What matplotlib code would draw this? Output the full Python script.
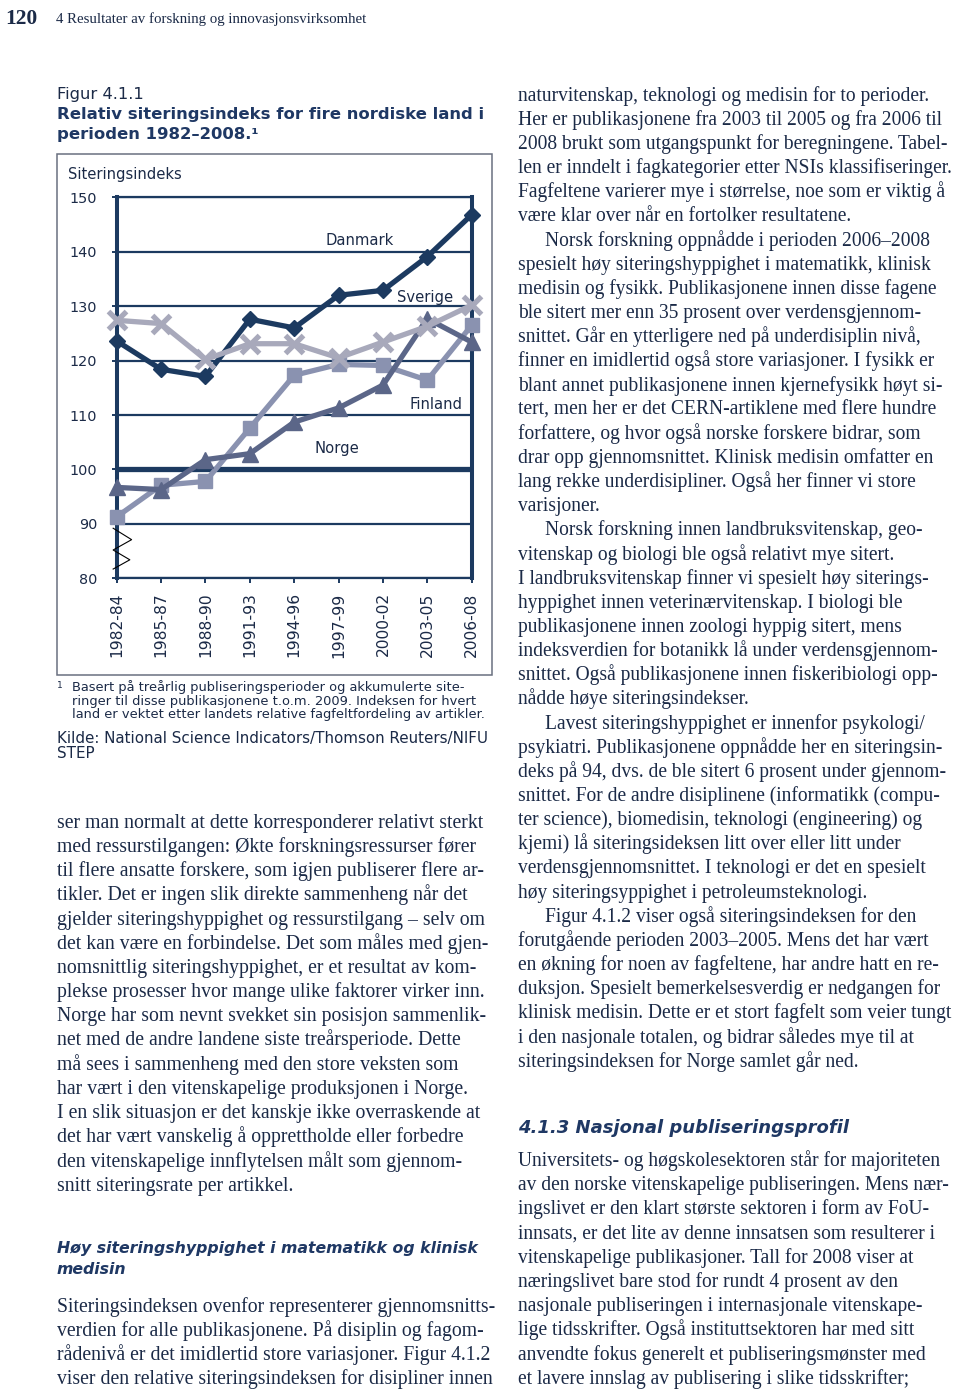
import matplotlib.pyplot as plt
import matplotlib.transforms as mtransforms
from matplotlib.patches import Rectangle

W, H = 960, 1389

# chart data
periods = ['1982-84', '1985-87', '1988-90', '1991-93', '1994-96',
           '1997-99', '2000-02', '2003-05', '2006-08']
danmark = [123.6, 118.4, 117.1, 127.6, 126.0, 132.0, 132.9, 139.1, 146.8]
sverige = [127.4, 126.8, 120.2, 123.1, 123.1, 120.5, 123.4, 126.3, 130.2]
norge = [96.7, 96.3, 101.8, 102.9, 108.7, 111.3, 115.5, 127.7, 123.4]
finland = [91.3, 97.1, 97.8, 107.6, 117.3, 119.3, 119.1, 116.4, 126.5]
verden = [100, 100, 100, 100, 100, 100, 100, 100, 100]
yticks = [80, 90, 100, 110, 120, 130, 140, 150]

# page text
left_lines = [
    "ser man normalt at dette korresponderer relativt sterkt",
    "med ressurstilgangen: Økte forskningsressurser fører",
    "til flere ansatte forskere, som igjen publiserer flere ar-",
    "tikler. Det er ingen slik direkte sammenheng når det",
    "gjelder siteringshyppighet og ressurstilgang – selv om",
    "det kan være en forbindelse. Det som måles med gjen-",
    "nomsnittlig siteringshyppighet, er et resultat av kom-",
    "plekse prosesser hvor mange ulike faktorer virker inn.",
    "Norge har som nevnt svekket sin posisjon sammenlik-",
    "net med de andre landene siste treårsperiode. Dette",
    "må sees i sammenheng med den store veksten som",
    "har vært i den vitenskapelige produksjonen i Norge.",
    "I en slik situasjon er det kanskje ikke overraskende at",
    "det har vært vanskelig å opprettholde eller forbedre",
    "den vitenskapelige innflytelsen målt som gjennom-",
    "snitt siteringsrate per artikkel.",
]
left_lines2 = [
    "Siteringsindeksen ovenfor representerer gjennomsnitts-",
    "verdien for alle publikasjonene. På disiplin og fagom-",
    "rådenivå er det imidlertid store variasjoner. Figur 4.1.2",
    "viser den relative siteringsindeksen for disipliner innen",
]
right_lines = [
    "naturvitenskap, teknologi og medisin for to perioder.",
    "Her er publikasjonene fra 2003 til 2005 og fra 2006 til",
    "2008 brukt som utgangspunkt for beregningene. Tabel-",
    "len er inndelt i fagkategorier etter NSIs klassifiseringer.",
    "Fagfeltene varierer mye i størrelse, noe som er viktig å",
    "være klar over når en fortolker resultatene.",
    "\tNorsk forskning oppnådde i perioden 2006–2008",
    "spesielt høy siteringshyppighet i matematikk, klinisk",
    "medisin og fysikk. Publikasjonene innen disse fagene",
    "ble sitert mer enn 35 prosent over verdensgjennom-",
    "snittet. Går en ytterligere ned på underdisiplin nivå,",
    "finner en imidlertid også store variasjoner. I fysikk er",
    "blant annet publikasjonene innen kjernefysikk høyt si-",
    "tert, men her er det CERN-artiklene med flere hundre",
    "forfattere, og hvor også norske forskere bidrar, som",
    "drar opp gjennomsnittet. Klinisk medisin omfatter en",
    "lang rekke underdisipliner. Også her finner vi store",
    "varisjoner.",
    "\tNorsk forskning innen landbruksvitenskap, geo-",
    "vitenskap og biologi ble også relativt mye sitert.",
    "I landbruksvitenskap finner vi spesielt høy siterings-",
    "hyppighet innen veterinærvitenskap. I biologi ble",
    "publikasjonene innen zoologi hyppig sitert, mens",
    "indeksverdien for botanikk lå under verdensgjennom-",
    "snittet. Også publikasjonene innen fiskeribiologi opp-",
    "nådde høye siteringsindekser.",
    "\tLavest siteringshyppighet er innenfor psykologi/",
    "psykiatri. Publikasjonene oppnådde her en siteringsin-",
    "deks på 94, dvs. de ble sitert 6 prosent under gjennom-",
    "snittet. For de andre disiplinene (informatikk (compu-",
    "ter science), biomedisin, teknologi (engineering) og",
    "kjemi) lå siteringsideksen litt over eller litt under",
    "verdensgjennomsnittet. I teknologi er det en spesielt",
    "høy siteringsyppighet i petroleumsteknologi.",
    "\tFigur 4.1.2 viser også siteringsindeksen for den",
    "forutgående perioden 2003–2005. Mens det har vært",
    "en økning for noen av fagfeltene, har andre hatt en re-",
    "duksjon. Spesielt bemerkelsesverdig er nedgangen for",
    "klinisk medisin. Dette er et stort fagfelt som veier tungt",
    "i den nasjonale totalen, og bidrar således mye til at",
    "siteringsindeksen for Norge samlet går ned.",
]
right_lines2 = [
    "Universitets- og høgskolesektoren står for majoriteten",
    "av den norske vitenskapelige publiseringen. Mens nær-",
    "ingslivet er den klart største sektoren i form av FoU-",
    "innsats, er det lite av denne innsatsen som resulterer i",
    "vitenskapelige publikasjoner. Tall for 2008 viser at",
    "næringslivet bare stod for rundt 4 prosent av den",
    "nasjonale publiseringen i internasjonale vitenskape-",
    "lige tidsskrifter. Også instituttsektoren har med sitt",
    "anvendte fokus generelt et publiseringsmønster med",
    "et lavere innslag av publisering i slike tidsskrifter;",
]
footnote = [
    "Basert på treårlig publiseringsperioder og akkumulerte site-",
    "ringer til disse publikasjonene t.o.m. 2009. Indeksen for hvert",
    "land er vektet etter landets relative fagfeltfordeling av artikler.",
]

navy = '#1c3a60'
txt = '#1b2a47'
head = '#1f3864'
serif = 'Liberation Serif'

fig = plt.figure(figsize=(W / 100, H / 100), dpi=100)


def put(x, y, s, **kw):
    # x, y in pixels from top-left, y = baseline
    kw.setdefault('color', txt)
    fig.text(x / W, 1 - y / H, s, va='baseline', **kw)


def column(lines, x, y0, dy, size, indent=27):
    for i, s in enumerate(lines):
        xx = x
        if s.startswith('\t'):
            s = s[1:]
            xx = x + indent
        put(xx, y0 + i * dy, s, family=serif, fontsize=size)


# page header
put(5, 24, '120', family=serif, fontsize=15.5, weight='bold')
put(56, 23, '4 Resultater av forskning og innovasjonsvirksomhet',
    family=serif, fontsize=10.75)

# figure caption
put(57, 98.5, 'Figur 4.1.1', fontsize=11.8)
put(57, 119.5, 'Relativ siteringsindeks for fire nordiske land i',
    fontsize=11.85, weight='bold', color=head)
put(57, 139.5, 'perioden 1982\u20132008.\u00b9', fontsize=11.85, weight='bold',
    color=head)

# box around chart
fig.patches.append(Rectangle((57 / W, 1 - 675 / H), 435 / W, 521 / H,
                             transform=fig.transFigure, fill=False,
                             edgecolor='#6a7080', lw=1.1))
put(68, 179.5, 'Siteringsindeks', fontsize=10.6)

ax = fig.add_axes([116.7 / W, 1 - 578.3 / H, 355 / W, 381 / H])
x = list(range(len(periods)))
ax.plot(x, verden, color=navy, lw=3.8, zorder=3, solid_capstyle='butt')
ax.plot(x, finland, color='#8a92b0', lw=3.8, marker='s', ms=9.5,
        zorder=4, clip_on=False)
ax.plot(x, norge, color='#5b6688', lw=3.8, marker='^', ms=12,
        zorder=5, clip_on=False)
ax.plot(x, danmark, color=navy, lw=3.8, marker='D', ms=8,
        zorder=6, clip_on=False)
ax.plot(x, sverige, color='#a8a9bb', lw=3.8, marker='x', ms=12.5, mew=3.8,
        zorder=7, clip_on=False)

ax.set_xlim(0, 8)
ax.set_ylim(80, 150)
ax.set_yticks(yticks)
ax.set_xticks(x)
ax.set_xticklabels(periods, rotation=90)
ax.grid(axis='y', color=navy, lw=1.6)
ax.set_axisbelow(True)
for side, w in [('left', 2.9), ('right', 2.9), ('top', 1.6), ('bottom', 1.6)]:
    ax.spines[side].set_color(navy)
    ax.spines[side].set_linewidth(w)
ax.tick_params(axis='y', direction='out', length=3.6, width=1.4, color=navy,
               labelsize=10.4, labelcolor=txt, pad=10.3)
ax.tick_params(axis='x', direction='out', length=3.6, width=1.4, color=navy,
               labelsize=11.2, labelcolor=txt, pad=6.5)

# axis break marks
trans = mtransforms.blended_transform_factory(ax.transAxes, ax.transData)
ax.plot([-0.01, 0.042, -0.01, 0.037, -0.01], [89.2, 87.1, 85.2, 83.4, 81.7],
        color='black', lw=0.8, transform=trans, clip_on=False, zorder=8)

for name, xi, yi in [('Danmark', 5.48, 142.0), ('Sverige', 6.95, 131.5),
                     ('Finland', 7.19, 111.9), ('Norge', 4.96, 103.9)]:
    ax.text(xi, yi, name, ha='center', va='center', fontsize=10.6, color=txt)

# footnote and source
put(57, 688, '1', fontsize=6.5)
for i, s in enumerate(footnote):
    put(72, 691.5 + i * 13.3, s, fontsize=9.35)
put(57, 743.5, 'Kilde: National Science Indicators/Thomson Reuters/NIFU', fontsize=10.9)
put(57, 757.5, 'STEP', fontsize=10.9)

# text columns
column(left_lines, 57, 827.7, 24.2, 14.25)
put(57, 1253.5, 'Høy siteringshyppighet i matematikk og klinisk', fontsize=11.3,
    weight='bold', style='italic', color=head)
put(57, 1273.5, 'medisin', fontsize=11.3, weight='bold', style='italic',
    color=head)
column(left_lines2, 57, 1311.7, 24.2, 14.25)

column(right_lines, 518, 100.7, 24.15, 14.05)
put(518, 1133.3, '4.1.3 Nasjonal publiseringsprofil', fontsize=13.0,
    weight='bold', style='italic', color=head)
column(right_lines2, 518, 1166, 24.2, 14.05)

fig.savefig('out.png', dpi=100)
